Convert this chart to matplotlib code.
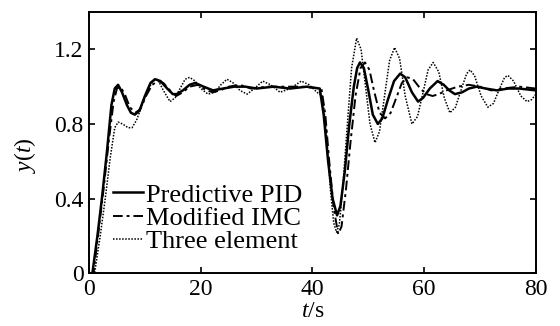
import numpy as np
from matplotlib import pyplot as plt

plt.rcParams['font.family'] = ['Liberation Serif', 'DejaVu Serif']
plt.rcParams['mathtext.fontset'] = 'custom'
plt.rcParams['mathtext.it'] = 'Liberation Serif:italic'
plt.rcParams['mathtext.rm'] = 'Liberation Serif'

# Predictive PID (solid)
pid_t = [0, 0.6, 1.5, 2.3, 3.2, 4.0, 4.6, 5.2, 5.9, 6.8, 7.5, 8.2, 9.0, 10.0, 11.0, 11.8,
         12.8, 14.0, 15.0, 15.7, 16.8, 18.0, 19.0, 20.5, 22.2, 24, 26, 28, 30, 33, 36, 39,
         41.3, 42.0, 42.8, 43.6, 44.4, 45.0, 45.8, 46.6, 47.4, 48.0, 48.5, 49.2, 50.0, 50.8,
         51.7, 52.5, 53.5, 54.6, 55.7, 56.6, 57.8, 58.9, 59.8, 61.0, 62.4, 63.5, 64.5, 65.5,
         66.8, 68.0, 69.4, 71, 73, 75, 77, 80]
pid_y = [0, 0, 0.2, 0.4, 0.65, 0.9, 0.99, 1.01, 0.97, 0.9, 0.86, 0.85, 0.87, 0.95, 1.02, 1.04,
         1.03, 0.99, 0.96, 0.96, 0.98, 1.01, 1.02, 1.0, 0.98, 0.99, 1.0, 1.0, 0.99, 1.0, 0.99, 1.0,
         0.99, 0.85, 0.6, 0.4, 0.31, 0.36, 0.55, 0.8, 1.0, 1.1, 1.13, 1.1, 0.98, 0.85,
         0.80, 0.83, 0.93, 1.03, 1.07, 1.05, 0.97, 0.92, 0.94, 0.99, 1.03, 1.01, 0.98, 0.96,
         0.97, 0.99, 1.0, 0.99, 0.98, 0.99, 0.99, 0.98]

# Modified IMC (dash-dot)
imc_t = [0, 0.8, 1.8, 2.6, 3.5, 4.4, 5.0, 5.6, 6.4, 7.3, 8.3, 9.2, 10.2, 11.3, 12.3, 13.3,
         14.5, 15.6, 16.8, 18.0, 19.5, 21, 22.2, 23.5, 25, 27, 29, 32, 35, 38,
         41.6, 42.3, 43.0, 43.8, 44.6, 45.2, 46.0, 46.8, 47.7, 48.6, 49.4, 50.2, 51.0, 52.0,
         53.0, 54.0, 55.0, 56.0, 57.0, 58.0, 59.3, 60.4, 61.5, 62.6, 64, 66, 68, 70, 72, 74, 77, 80]
imc_y = [0, 0, 0.25, 0.45, 0.7, 0.92, 0.99, 1.0, 0.96, 0.89, 0.86, 0.88, 0.95, 1.01, 1.03, 1.02,
         0.98, 0.95, 0.97, 1.0, 1.01, 0.98, 0.97, 0.98, 1.0, 1.01, 0.99, 1.0, 1.0, 1.0,
         0.99, 0.85, 0.6, 0.35, 0.21, 0.25, 0.45, 0.7, 0.95, 1.1, 1.13, 1.09, 0.98, 0.86,
         0.83, 0.86, 0.94, 1.02, 1.05, 1.04, 0.99, 0.96, 0.95, 0.96, 0.98, 1.0, 1.01, 1.0, 0.98, 0.99, 1.0, 0.99]

# Three element (dotted)
thr_t = [0, 1.0, 2.0, 2.9, 3.8, 4.6, 5.2, 6.0, 7.0, 7.7, 8.5, 9.5, 10.5, 11.4, 12.3, 13.3,
         14.5, 15.4, 16.3, 17.2, 18.0, 19.0, 20.0, 21.3, 22.5, 23.6, 24.7, 25.8, 27.0, 28.3,
         29.6, 31.1, 32.5, 34.2, 36.0, 38.0, 39.4, 40.8, 41.8, 42.5, 43.2, 43.8, 44.3, 44.8,
         45.4, 46.2, 47.0, 47.9, 48.7, 49.5, 50.3, 51.2, 52.0, 52.9, 53.8, 54.7, 55.6, 56.6,
         57.8, 58.8, 59.8, 60.7, 61.6, 62.6, 63.6, 64.6, 65.6, 66.8, 67.6, 68.2, 69.0, 70.2,
         71.4, 72.4, 73.5, 74.4, 75.0, 76.0, 77.3, 78.4, 79.2, 80]
thr_y = [0, 0, 0.2, 0.4, 0.62, 0.78, 0.81, 0.8, 0.78, 0.78, 0.82, 0.9, 0.98, 1.03, 1.04, 0.98,
         0.92, 0.94, 0.99, 1.04, 1.05, 1.03, 0.99, 0.96, 0.97, 1.01, 1.04, 1.02, 0.98, 0.96,
         0.99, 1.03, 1.01, 0.97, 0.99, 1.03, 1.01, 0.97, 0.95, 0.75, 0.45, 0.27, 0.22, 0.26,
         0.45, 0.78, 1.1, 1.26, 1.2, 1.0, 0.8, 0.70, 0.76, 0.95, 1.14, 1.21, 1.15, 0.95,
         0.80, 0.84, 0.97, 1.09, 1.13, 1.08, 0.94, 0.86, 0.89, 1.0, 1.07, 1.09, 1.06, 0.95,
         0.89, 0.91, 0.99, 1.05, 1.06, 1.03, 0.95, 0.92, 0.93, 0.96]

x_ticks = [0, 20, 40, 60, 80]
y_ticks = [0, 0.4, 0.8, 1.2]
y_tick_labels = ['0', '0.4', '0.8', '1.2']

fig = plt.figure(figsize=(5.6, 3.26), dpi=100)
ax = fig.add_axes([0.159, 0.162, 0.798, 0.801])

ax.plot(pid_t, pid_y, color='black', linewidth=1.8, linestyle='-', label='Predictive PID')
ax.plot(imc_t, imc_y, color='black', linewidth=1.4, linestyle=(0, (5, 2, 1.5, 2)), label='Modified IMC')
ax.plot(thr_t, thr_y, color='black', linewidth=1.1, linestyle=(0, (1, 1)), label='Three element')

ax.set_xlim(0, 80)
ax.set_ylim(0, 1.4)
ax.set_xticks(x_ticks)
ax.set_yticks(y_ticks)
ax.set_yticklabels(y_tick_labels)
ax.tick_params(direction='in', top=True, right=True, length=4, width=1.2, labelsize=17)
ax.tick_params(axis='x', pad=4)
ax.tick_params(axis='y', pad=4)
for s in ax.spines.values():
    s.set_linewidth(1.4)

ax.set_xlabel(r'$t$/s', fontsize=17, labelpad=1)
ax.set_ylabel(r'$y$($t$)', fontsize=17)
ax.yaxis.set_label_coords(-0.114, 0.452)

ax.legend(loc='lower left', bbox_to_anchor=(0.03, 0.035), frameon=False, fontsize=19,
          handlelength=1.15, handletextpad=0.1, labelspacing=0.0, borderaxespad=0)

fig.savefig('out.png', dpi=100)
